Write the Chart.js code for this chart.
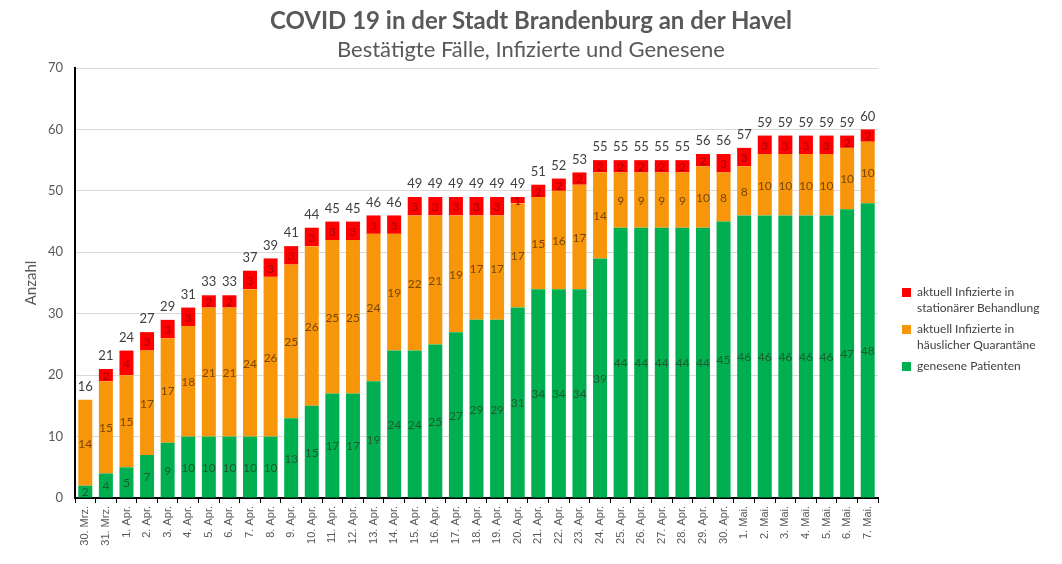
<!DOCTYPE html>
<html>
<head>
<meta charset="utf-8">
<script src="https://cdn.jsdelivr.net/npm/chart.js@4"></script>
<style>
  html, body { margin: 0; padding: 0; background: #fff; }
  #wrap { position: relative; width: 1062px; height: 564px; }
  #title { position: absolute; left: 0; top: 5px; width: 1062px; text-align: center; font-family: Lato, sans-serif; color: #595959; }
  #title .t1 { font-size: 24px; font-weight: bold; line-height: 30px; }
  #title .t2 { font-size: 22px; line-height: 27px; }
  #legend { position: absolute; left: 902px; top: 284px; font-family: Lato, sans-serif; font-size: 12px; color: #404040; }
  .lg { display: flex; align-items: flex-start; margin-bottom: 5px; line-height: 16px; }
  .sw { width: 9px; height: 9px; margin: 4px 6px 0 0; flex: none; }
</style>
</head>
<body>
<div id="wrap">
  <canvas id="c" width="1062" height="564"></canvas>
  <div id="title">
    <div class="t1">COVID 19 in der Stadt Brandenburg an der Havel</div>
    <div class="t2">Bestätigte Fälle, Infizierte und Genesene</div>
  </div>
  <div id="legend"></div>
</div>
<script>
// ---- Daten ----
const days = ['30. Mrz.', '31. Mrz.',
  '1. Apr.', '2. Apr.', '3. Apr.', '4. Apr.', '5. Apr.', '6. Apr.', '7. Apr.', '8. Apr.', '9. Apr.', '10. Apr.',
  '11. Apr.', '12. Apr.', '13. Apr.', '14. Apr.', '15. Apr.', '16. Apr.', '17. Apr.', '18. Apr.', '19. Apr.', '20. Apr.',
  '21. Apr.', '22. Apr.', '23. Apr.', '24. Apr.', '25. Apr.', '26. Apr.', '27. Apr.', '28. Apr.', '29. Apr.', '30. Apr.',
  '1. Mai.', '2. Mai.', '3. Mai.', '4. Mai.', '5. Mai.', '6. Mai.', '7. Mai.'];
const genesen = [2, 4, 5, 7, 9, 10, 10, 10, 10, 10, 13, 15, 17, 17, 19, 24, 24, 25, 27, 29, 29, 31, 34, 34, 34, 39,
  44, 44, 44, 44, 44, 45, 46, 46, 46, 46, 46, 47, 48];
const quarantaene = [14, 15, 15, 17, 17, 18, 21, 21, 24, 26, 25, 26, 25, 25, 24, 19, 22, 21, 19, 17, 17, 17, 15, 16, 17, 14,
  9, 9, 9, 9, 10, 8, 8, 10, 10, 10, 10, 10, 10];
const stationaer = [0, 2, 4, 3, 3, 3, 2, 2, 3, 3, 3, 3, 3, 3, 3, 3, 3, 3, 3, 3, 3, 1, 2, 2, 2, 2,
  2, 2, 2, 2, 2, 3, 3, 3, 3, 3, 3, 2, 2];
const yTicks = [0, 10, 20, 30, 40, 50, 60, 70];

const COL_RED = '#FF0000', COL_ORANGE = '#F7960A', COL_GREEN = '#00B050';
const FONT = 'Lato, sans-serif';

// Legende (HTML, mehrzeilig wie im Original)
const legendItems = [
  [COL_RED, 'aktuell Infizierte in<br>stationärer Behandlung'],
  [COL_ORANGE, 'aktuell Infizierte in<br>häuslicher Quarantäne'],
  [COL_GREEN, 'genesene Patienten']
];
document.getElementById('legend').innerHTML = legendItems.map(l =>
  `<div class="lg"><span class="sw" style="background:${l[0]}"></span><span>${l[1]}</span></div>`
).join('');

// Werte in den Segmenten + Summe oben
const valueLabels = {
  id: 'valueLabels',
  afterDatasetsDraw(chart) {
    const ctx = chart.ctx;
    ctx.save();
    ctx.textAlign = 'center';
    ctx.textBaseline = 'middle';
    ctx.font = '12px ' + FONT;
    chart.data.datasets.forEach((ds, di) => {
      const meta = chart.getDatasetMeta(di);
      meta.data.forEach((bar, i) => {
        const v = ds.data[i];
        if (!v) return;
        ctx.fillStyle = ds.labelColor;
        ctx.fillText(String(v), bar.x, (bar.y + bar.base) / 2 + 1);
      });
    });
    const top = chart.getDatasetMeta(chart.data.datasets.length - 1);
    ctx.fillStyle = '#404040';
    ctx.font = '13px ' + FONT;
    top.data.forEach((bar, i) => {
      const total = genesen[i] + quarantaene[i] + stationaer[i];
      ctx.fillText(String(total), bar.x, bar.y - 13);
    });
    ctx.restore();
  }
};

new Chart(document.getElementById('c'), {
  type: 'bar',
  data: {
    labels: days,
    datasets: [
      { label: 'genesene Patienten', data: genesen, backgroundColor: COL_GREEN, labelColor: '#1d5a2e' },
      { label: 'aktuell Infizierte in häuslicher Quarantäne', data: quarantaene, backgroundColor: COL_ORANGE, labelColor: '#7a4600' },
      { label: 'aktuell Infizierte in stationärer Behandlung', data: stationaer, backgroundColor: COL_RED, labelColor: '#a80000' }
    ]
  },
  options: {
    responsive: false,
    animation: false,
    layout: { padding: { left: 22, right: 184, top: 68, bottom: 0 } },
    datasets: { bar: { barPercentage: 0.68, categoryPercentage: 1 } },
    plugins: {
      legend: { display: false },
      tooltip: { enabled: false },
      title: { display: false }
    },
    scales: {
      x: {
        stacked: true,
        grid: { display: true, drawOnChartArea: false, offset: true, tickLength: 5, color: '#000' },
        border: { color: '#000', width: 2 },
        ticks: { minRotation: 90, maxRotation: 90, autoSkip: false, color: '#595959', font: { family: 'Liberation Sans, sans-serif', size: 11 } },
        afterFit: s => { s.height = 66; }
      },
      y: {
        stacked: true,
        min: 0,
        max: 70,
        afterBuildTicks: s => { s.ticks = yTicks.map(v => ({ value: v })); },
        grid: { color: '#d9d9d9', drawTicks: false },
        border: { color: '#000', width: 2 },
        ticks: { color: '#595959', padding: 12, font: { family: FONT, size: 13 } },
        title: { display: true, text: 'Anzahl', color: '#595959', font: { family: FONT, size: 15 }, padding: 0 },
        afterFit: s => { s.width = 53; }
      }
    }
  },
  plugins: [valueLabels]
});
</script>
</body>
</html>
